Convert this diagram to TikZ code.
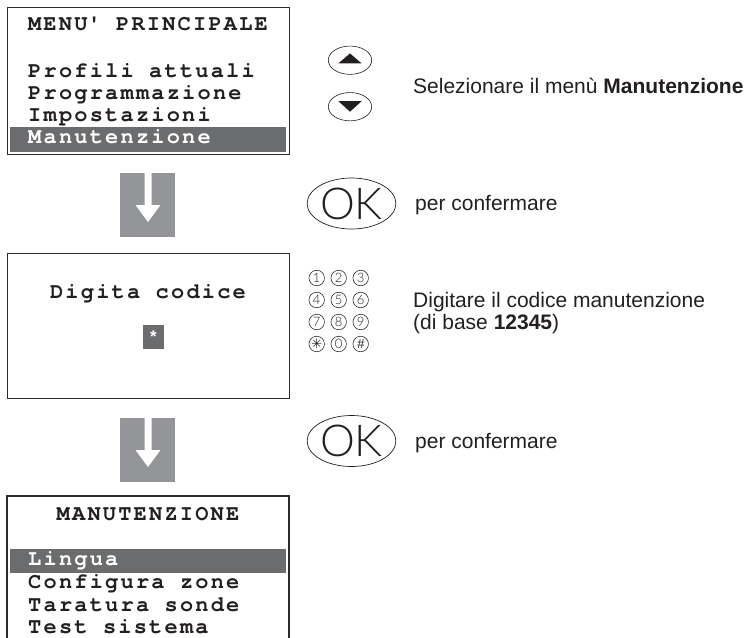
\documentclass[tikz,border=0pt]{standalone}
\usepackage{fontspec}
\setmainfont{Liberation Sans}
\newfontfamily\lcdfont{texgyrecursor}[Extension=.otf, UprightFont=*-regular, BoldFont=*-bold, LetterSpace=10, Ligatures={NoCommon}]
\newfontfamily\okfont{Lato}[UprightFont=* Light]
\newfontfamily\symfont{DejaVu Sans}
\usetikzlibrary{shapes.geometric}
\definecolor{bargray}{HTML}{6B6C6E}
\definecolor{arrgray}{HTML}{939598}
\definecolor{framec}{HTML}{2B2B2B}
\definecolor{txt}{HTML}{231F20}
\tikzset{
  lcdbox/.style={draw=framec, line width=1.3pt, inner sep=0pt, anchor=north west},
  lcdtxt/.style={font=\lcdfont\bfseries\fontsize{22}{24}\selectfont, text=txt, inner sep=0pt},
  lcdsel/.style={lcdtxt, text=white},
  selbar/.style={fill=bargray, anchor=north west, inner sep=0pt, minimum width=276pt, minimum height=25pt},
  arrbox/.style={fill=arrgray, anchor=north west, inner sep=0pt, minimum width=55pt, minimum height=64pt},
  rtxt/.style={font=\fontsize{21}{24}\selectfont, text=txt, inner sep=0pt, anchor=base west},
  navbtn/.style={draw=txt, ellipse, line width=0.6pt, inner sep=0pt, minimum width=43.4pt, minimum height=28.3pt},
  okbtn/.style={draw=txt, ellipse, line width=0.7pt, inner sep=0pt, minimum width=75pt, minimum height=51pt, text=txt, font=\okfont\fontsize{44}{44}\selectfont},
  keybtn/.style={draw=txt, circle, line width=0.55pt, inner sep=0pt, minimum size=15.5pt, text=txt, font=\okfont\fontsize{13}{13}\selectfont},
}
\begin{document}
\begin{tikzpicture}[x=1pt,y=-1pt]
\useasboundingbox (0,0) rectangle (751,637);

% ---- screen 1
\node[lcdbox, minimum width=282pt, minimum height=147pt] (scr1) at (7,7) {};
\node[selbar] (bar1) at (10,127) {};
\node[lcdtxt, anchor=base] (s1h) at (148,30) {MENU\textquotesingle{} PRINCIPALE};
\node[lcdtxt, anchor=base west] (s1a) at (28,77) {Profili attuali};
\node[lcdtxt, anchor=base west] (s1b) at (28,99.5) {Programmazione};
\node[lcdtxt, anchor=base west] (s1c) at (28,121.7) {Impostazioni};
\node[lcdsel, anchor=base west] (s1d) at (28,143.3) {Manutenzione};

% ---- arrow 1
\node[arrbox] (ar1) at (120,173) {};
\fill[white] (144.5,173) -- (144.5,205) -- (135.5,205) -- (148,222) -- (160.5,205) -- (151.5,205) -- (151.5,173) -- cycle;

% ---- screen 2
\node[lcdbox, minimum width=282pt, minimum height=145pt] (scr2) at (7,253) {};
\node[lcdtxt, anchor=base] (s2h) at (148,298) {Digita codice};
\node[fill=bargray, inner sep=0pt, minimum width=21pt, minimum height=24pt, text=white,
      font=\bfseries\fontsize{17}{17}\selectfont] (starbox) at (153.5,337) {*};

% ---- arrow 2
\node[arrbox] (ar2) at (120,418) {};
\fill[white] (144.5,418) -- (144.5,450) -- (135.5,450) -- (148,467) -- (160.5,450) -- (151.5,450) -- (151.5,418) -- cycle;

% ---- screen 3 (cut at the bottom)
\draw[draw=framec, line width=1.3pt] (7,640) -- (7,496) -- (289,496) -- (289,640);
\node[selbar, minimum height=24pt] (bar3) at (10,549) {};
\node[lcdtxt, anchor=base] (s3h) at (148,520) {MANUTENZIONE};
\node[lcdsel, anchor=base west] (s3a) at (28,565) {Lingua};
\node[lcdtxt, anchor=base west] (s3b) at (28,588) {Configura zone};
\node[lcdtxt, anchor=base west] (s3c) at (28,611) {Taratura sonde};
\node[lcdtxt, anchor=base west] (s3d) at (28,633) {Test sistema};

% ---- right column
\node[navbtn] (up) at (350,60.2) {};
\fill[txt] ([shift={(-11.6,3.2)}]up.center) -- ([shift={(11.6,3.2)}]up.center) -- ([shift={(0,-6.8)}]up.center) -- cycle;
\node[navbtn] (down) at (350,106.7) {};
\fill[txt] ([shift={(-11.6,-5.5)}]down.center) -- ([shift={(11.6,-5.5)}]down.center) -- ([shift={(0,5)}]down.center) -- cycle;
\node[rtxt] (t1) at (413,93) {Selezionare il menù \textbf{Manutenzione}};

\node[okbtn] (ok1) at (351.5,203.5) {OK};
\node[rtxt] (t2) at (415,210) {per confermare};

\foreach \lab/\c/\r [count=\i] in {1/0/0,2/1/0,3/2/0,4/0/1,5/1/1,6/2/1,7/0/2,8/1/2,9/2/2,{\symfont ✳}/0/3,0/1/3,{\rmfamily\itshape\#}/2/3}{
  \node[keybtn] (key\i) at (316.7+22*\c, 278+22*\r) {\lab};
}
\node[rtxt] (t3) at (413,307) {Digitare il codice manutenzione};
\node[rtxt] (t4) at (413,329) {(di base \textbf{12345})};

\node[okbtn] (ok2) at (351.5,441) {OK};
\node[rtxt] (t5) at (415,448) {per confermare};
\end{tikzpicture}
\end{document}
